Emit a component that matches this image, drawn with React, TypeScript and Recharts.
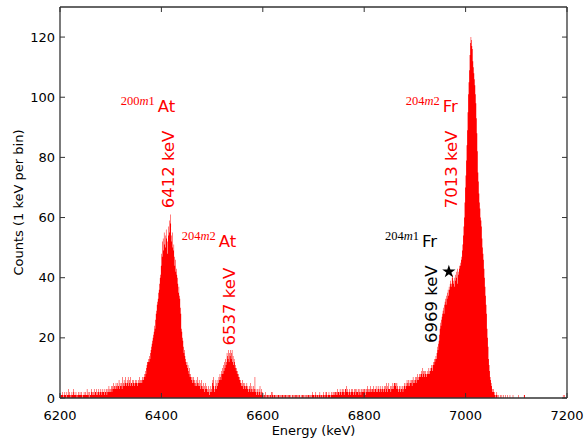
import { ComposedChart, Area, XAxis, YAxis, ReferenceDot, Label, Symbols } from 'recharts'

const RED = '#ff0000'
const FRAME = '#333333'
const WIDTH = 584
const HEIGHT = 445
const MARGIN = { top: 7, right: 17, bottom: 0, left: 0 }
const Y_AXIS_W = 60

// histogram: 1 keV bins starting at 6200 keV
const binStart = 6200

const counts6200 = [
  1, 0, 1, 1, 2, 1, 0, 1, 1, 2, 1, 1, 0, 2, 1, 1, 3, 1, 2, 1, 1, 0, 1, 2, 1, 1, 3, 2, 1, 1,
  1, 2, 1, 0, 1, 1, 2, 1, 1, 2, 1, 1, 2, 1, 0, 1, 1, 2, 1, 1, 2, 1, 1, 3, 1, 2, 1, 0, 2, 1,
  1, 2, 3, 1, 2, 1, 2, 3, 1, 2, 2, 1, 3, 2, 1, 2, 3, 1, 2, 2, 3, 2, 1, 2, 3, 2, 2, 1, 3, 2,
  2, 3, 1, 2, 3, 2, 4, 2, 3, 2,
]
const counts6300 = [
  3, 4, 2, 4, 3, 5, 3, 4, 4, 3, 5, 4, 3, 5, 4, 4, 6, 3, 5, 4, 4, 5, 3, 7, 4, 5, 6, 4, 5, 7,
  5, 4, 6, 5, 7, 4, 5, 6, 4, 7, 5, 5, 6, 4, 5, 6, 5, 4, 6, 5, 5, 6, 4, 5, 6, 5, 7, 5, 6, 5,
  6, 5, 7, 6, 6, 7, 8, 7, 9, 8, 10, 11, 12, 12, 13, 12, 14, 13, 15, 16, 17, 18, 19, 20, 21, 22, 24, 23, 26, 28,
  29, 31, 32, 33, 35, 36, 38, 40, 41, 44,
]
const counts6400 = [
  48, 47, 52, 53, 49, 55, 51, 54, 50, 56, 53, 52, 48, 54, 57, 55, 59, 61, 58, 54,
  52, 55, 50, 49, 51, 47, 44, 46, 42, 43, 41, 40, 38, 35, 37, 34, 33, 30, 28, 23,
  22, 20, 19, 17, 15, 16, 14, 13, 12, 11, 12, 10, 11, 9, 8, 10, 7, 8, 7, 6,
  7, 5, 6, 7, 5, 6, 4, 5, 6, 4, 5, 7, 4, 5, 6, 4, 5, 3, 4, 6,
  3, 4, 5, 3, 4, 2, 3, 5, 4, 3, 2, 3, 4, 2, 1, 3, 2, 4, 3, 2,
]
const counts6500 = [
  5, 6, 7, 4, 2, 3, 4, 6, 3, 5, 4, 6, 5, 7, 6, 8, 7, 6, 9, 8,
  10, 8, 11, 9, 12, 10, 13, 11, 12, 15, 14, 13, 16, 12, 15, 14, 16, 13, 15, 16,
  12, 14, 11, 13, 12, 10, 11, 9, 10, 8, 9, 7, 8, 6, 7, 5, 6, 4, 5, 6,
  4, 5, 3, 4, 5, 4, 3, 4, 5, 3, 4, 2, 3, 4, 3, 5, 2, 3, 4, 2,
  3, 4, 2, 3, 7, 2, 3, 1, 2, 3, 2, 1, 3, 2, 4, 1, 2, 3, 1, 2,
]
const counts6600 = [
  1, 0, 1, 1, 0, 2, 1, 0, 1, 1, 0, 1, 1, 0, 1, 1, 0, 2, 2, 1, 1, 0, 1, 1, 0, 1, 1, 0, 1, 0,
  1, 1, 0, 1, 1, 0, 1, 0, 1, 1, 0, 1, 1, 0, 1, 1, 0, 1, 0, 1, 1, 0, 1, 1, 0, 1, 0, 0, 1, 1,
  0, 1, 0, 1, 1, 0, 1, 1, 0, 1, 0, 1, 1, 0, 0, 1, 0, 1, 1, 0, 1, 1, 0, 0, 1, 0, 1, 1, 0, 1,
  1, 0, 1, 0, 1, 1, 0, 1, 2, 1,
]
const counts6700 = [
  1, 0, 1, 1, 2, 1, 0, 1, 1, 0, 1, 1, 2, 1, 0, 1, 1, 0, 1, 2, 1, 1, 0, 1, 2, 2, 1, 0, 1, 1,
  2, 1, 1, 0, 1, 2, 1, 1, 2, 1, 2, 1, 2, 2, 1, 2, 1, 3, 2, 2, 2, 1, 3, 2, 2, 1, 3, 2, 3, 2,
  1, 2, 3, 3, 2, 4, 2, 3, 1, 2, 3, 2, 2, 1, 3, 2, 3, 2, 1, 2, 3, 2, 3, 1, 2, 3, 2, 2, 3, 1,
  2, 3, 2, 1, 3, 2, 2, 3, 2, 3,
]
const counts6800 = [
  3, 2, 1, 3, 2, 3, 4, 2, 3, 2, 3, 2, 4, 3, 2, 3, 3, 2, 4, 3, 2, 3, 3, 4, 2, 3, 2, 4, 3, 3,
  2, 4, 3, 2, 3, 4, 3, 2, 3, 4, 3, 2, 4, 5, 3, 2, 4, 3, 5, 3, 3, 4, 2, 3, 4, 3, 5, 3, 4, 5,
  5, 4, 5, 3, 5, 4, 3, 2, 3, 4, 3, 2, 4, 3, 3, 4, 2, 3, 4, 5, 4, 3, 5, 4, 6, 5, 4, 6, 5, 4,
  6, 5, 5, 6, 4, 6, 7, 5, 6, 5,
]
const counts6900 = [
  6, 7, 5, 7, 6, 8, 7, 6, 7, 8, 8, 7, 9, 8, 7, 10, 9, 8, 7, 9,
  8, 9, 7, 8, 8, 9, 8, 10, 8, 9, 9, 10, 11, 10, 9, 11, 12, 11, 13, 12,
  13, 14, 13, 15, 17, 16, 18, 19, 21, 23, 25, 24, 26, 27, 28, 29, 30, 28, 31, 32,
  33, 31, 34, 33, 35, 36, 34, 37, 36, 38, 39, 37, 38, 40, 41, 39, 38, 40, 37, 39,
  41, 40, 42, 38, 43, 41, 42, 44, 43, 45, 44, 46, 47, 49, 51, 54, 57, 60, 65, 70,
]
const counts7000 = [
  74, 79, 84, 89, 95, 101, 105, 109, 114, 118, 120, 119, 117, 116, 112, 110, 108, 106, 104, 101,
  98, 93, 88, 82, 75, 72, 68, 65, 63, 60, 59, 57, 53, 50, 48, 46, 43, 40, 37, 34,
  31, 28, 23, 20, 17, 13, 11, 9, 7, 6, 5, 4, 3, 2, 2, 3, 1, 2, 1, 0,
  1, 2, 0, 1, 0, 1, 0, 0, 1, 0, 0, 1, 0, 0, 1, 0, 0, 0, 1, 0,
  0, 0, 1, 0, 0, 0, 0, 1, 0, 0, 0, 0, 0, 1, 0, 0, 0, 0, 0, 0,
]
const counts7100 = [
  0, 0, 0, 0, 1, 0, 0, 0, 0, 0, 0, 0, 0, 0, 0, 1, 1, 0, 0, 0, 0, 0, 0, 0, 0, 0, 0, 0, 0, 0,
  0, 0, 0, 0, 0, 0, 0, 0, 0, 0, 0, 0, 0, 0, 0, 0, 0, 0, 0, 0, 0, 0, 0, 0, 0, 0, 0, 0, 0, 0,
  0, 0, 0, 0, 0, 0, 0, 0, 0, 0, 0, 0, 0, 0, 0, 0, 0, 0, 0, 0, 0, 0, 0, 0, 0, 0, 0, 0, 0, 0,
  0, 0, 1, 0, 0, 1, 0, 0, 0, 0,
]

const xDomain = [6200, 7200]
const yDomain = [0, 130]
const xTicks = [6200, 6400, 6600, 6800, 7000, 7200]
const yTicks = [0, 20, 40, 60, 80, 100, 120]

// isotope names: mass number, isomer index, element
const isotopes = [
  { mass: '200', isomer: '1', element: 'At', energy: 6320, counts: 95.2, color: RED },
  { mass: '204', isomer: '2', element: 'At', energy: 6440, counts: 50.3, color: RED },
  { mass: '204', isomer: '2', element: 'Fr', energy: 6882, counts: 95.2, color: RED },
  { mass: '204', isomer: '1', element: 'Fr', energy: 6841, counts: 50.2, color: '#000' },
]
// line energies, written vertically
const lines = [
  { text: '6412 keV', energy: 6414, counts: 76, color: RED },
  { text: '6537 keV', energy: 6534, counts: 30.4, color: RED },
  { text: '7013 keV', energy: 6973, counts: 76, color: RED },
  { text: '6969 keV', energy: 6933, counts: 31.2, color: '#000' },
]
const star = { energy: 6967, counts: 42 }

const histogram = [
  ...counts6200, ...counts6300, ...counts6400, ...counts6500, ...counts6600,
  ...counts6700, ...counts6800, ...counts6900, ...counts7000, ...counts7100,
].map((c, i) => ({ energy: binStart + i, counts: c }))
histogram.push({ energy: 7200, counts: 0 })

function IsotopeTag({ cx, cy, mass, isomer, element, color }: any) {
  return (
    <text x={cx} y={cy} fill={color}>
      <tspan fontFamily="Liberation Serif" fontSize={12.5} dy={-7}>
        {mass}
        <tspan fontStyle="italic">m</tspan>
        {isomer}
      </tspan>
      <tspan fontFamily="DejaVu Sans" fontSize={16.5} dx={3} dy={7}>
        {element}
      </tspan>
    </text>
  )
}

function VerticalText({ cx, cy, text, color }: any) {
  return (
    <text
      x={cx}
      y={cy}
      fill={color}
      fontSize={16.5}
      textAnchor="middle"
      dominantBaseline="central"
      transform={`rotate(-90 ${cx} ${cy})`}
    >
      {text}
    </text>
  )
}

// y label plus the top and right sides of the box (matplotlib style, ticks inward)
function LeftLabelAndFrame({ viewBox }: any) {
  const x = viewBox.x + 18
  const y = viewBox.y + viewBox.height / 2
  const left = viewBox.x + viewBox.width
  const right = WIDTH - MARGIN.right
  const top = viewBox.y
  const bottom = viewBox.y + viewBox.height
  const sx = (v: number) => left + ((v - xDomain[0]) / (xDomain[1] - xDomain[0])) * (right - left)
  const sy = (v: number) => bottom - ((v - yDomain[0]) / (yDomain[1] - yDomain[0])) * (bottom - top)
  return (
    <g>
      <text x={x} y={y} transform={`rotate(-90 ${x} ${y})`} textAnchor="middle" dominantBaseline="central" fontSize={13} fill="#000">
        Counts (1 keV per bin)
      </text>
      <line x1={left} x2={right} y1={top} y2={top} stroke={FRAME} strokeWidth={1.3} />
      <line x1={right} x2={right} y1={top} y2={bottom} stroke={FRAME} strokeWidth={1.3} />
      {xTicks.map((t) => (
        <line key={'tx' + t} x1={sx(t)} x2={sx(t)} y1={top} y2={top + 5} stroke={FRAME} strokeWidth={1} />
      ))}
      {yTicks.map((t) => (
        <line key={'ty' + t} x1={right} x2={right - 5} y1={sy(t)} y2={sy(t)} stroke={FRAME} strokeWidth={1} />
      ))}
    </g>
  )
}

const tickStyle = { fill: '#000', fontSize: 13 }
const axisLine = { stroke: FRAME, strokeWidth: 1.3 }
const tickLine = { stroke: FRAME, strokeWidth: 1 }

export default function App() {
  return (
    <div style={{ position: 'absolute', left: 0, top: 0, fontFamily: 'DejaVu Sans', background: '#fff' }}>
      <ComposedChart width={WIDTH} height={HEIGHT} data={histogram} margin={MARGIN}>
        <XAxis
          type="number"
          dataKey="energy"
          domain={xDomain}
          ticks={xTicks}
          interval={0}
          allowDataOverflow
          height={47}
          tickSize={-5}
          tickMargin={18}
          tick={tickStyle}
          axisLine={axisLine}
          tickLine={tickLine}
        >
          <Label
            content={({ viewBox }: any) => (
              <text x={viewBox.x + viewBox.width / 2} y={viewBox.y + 36.5} textAnchor="middle" fontSize={13} fill="#000">
                Energy (keV)
              </text>
            )}
          />
        </XAxis>
        <YAxis
          type="number"
          domain={yDomain}
          ticks={yTicks}
          interval={0}
          allowDataOverflow
          width={Y_AXIS_W}
          tickSize={-5}
          tickMargin={10}
          tick={tickStyle}
          axisLine={axisLine}
          tickLine={tickLine}
        >
          <Label content={(p: any) => <LeftLabelAndFrame viewBox={p.viewBox} />} />
        </YAxis>
        <Area
          type="stepAfter"
          dataKey="counts"
          fill={RED}
          fillOpacity={1}
          stroke="none"
          baseValue={0}
          isAnimationActive={false}
        />
        {isotopes.map((t) => (
          <ReferenceDot
            key={t.mass + t.element + t.isomer}
            x={t.energy}
            y={t.counts}
            ifOverflow="visible"
            shape={(p: any) => <IsotopeTag cx={p.cx} cy={p.cy} {...t} />}
          />
        ))}
        {lines.map((l) => (
          <ReferenceDot
            key={l.text}
            x={l.energy}
            y={l.counts}
            ifOverflow="visible"
            shape={(p: any) => <VerticalText cx={p.cx} cy={p.cy} text={l.text} color={l.color} />}
          />
        ))}
        <ReferenceDot
          x={star.energy}
          y={star.counts}
          ifOverflow="visible"
          shape={(p: any) => <Symbols cx={p.cx} cy={p.cy} type="star" size={55} fill="#000" />}
        />
      </ComposedChart>
    </div>
  )
}
